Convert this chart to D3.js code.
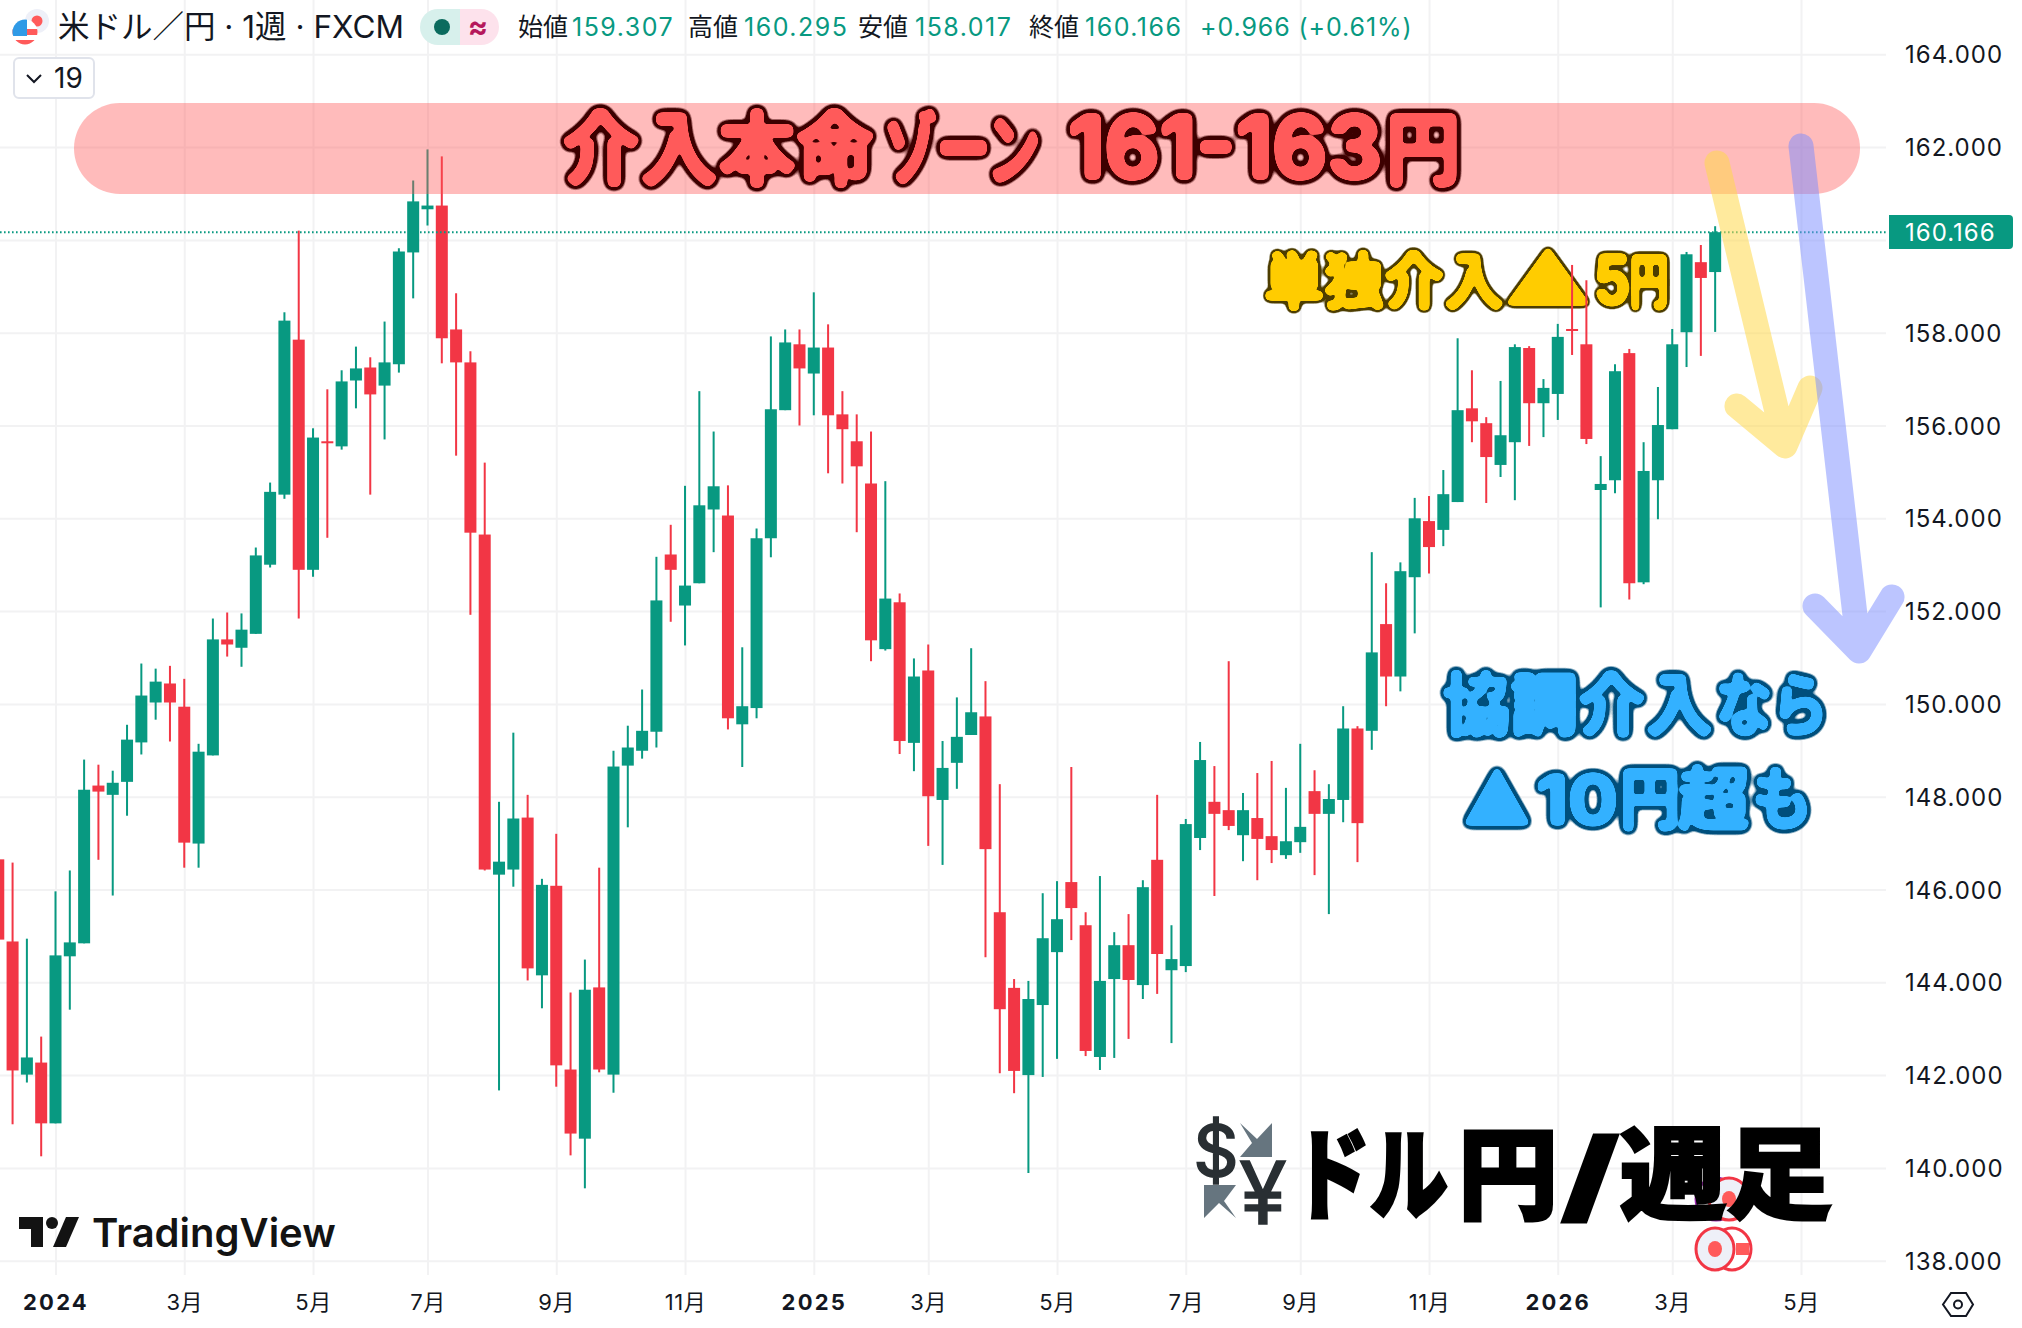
<!DOCTYPE html>
<html>
<head>
<meta charset="utf-8">
<script src="https://cdnjs.cloudflare.com/ajax/libs/d3/7.8.5/d3.min.js"></script>
<style>
  html, body { margin: 0; padding: 0; background: #fff; }
  svg { display: block; }
  text { font-family: Inter, "Noto Sans CJK JP", sans-serif; }
</style>
</head>
<body>
<script>
// size of the picture
const w = 2022;
const h = 1328;

// weekly candles, first one is the week of 2023-12-04
const opens = [146.65,144.88,142.01,142.27,140.96,144.56,144.84,148.24,148.04,148.32,149.17,150.03,150.44,149.94,146.99,148.89,151.39,151.21,151.51,153.00,154.51,157.85,152.89,155.66,155.55,156.97,157.25,156.86,157.32,159.73,160.66,160.74,158.07,157.36,153.65,146.32,146.43,147.55,144.15,146.08,142.12,140.63,143.89,142.01,148.67,148.99,149.40,153.22,152.12,152.60,154.19,154.06,149.56,149.91,153.57,156.33,157.75,157.12,157.68,156.24,155.66,154.75,151.18,152.19,149.16,150.72,147.93,148.73,149.33,149.73,145.51,143.88,142.00,143.51,144.65,146.16,145.23,142.39,144.07,144.80,143.94,146.64,144.26,144.35,147.11,147.89,147.71,147.17,147.54,147.15,146.74,147.02,148.12,147.63,147.93,149.47,149.42,151.72,150.59,152.73,153.94,153.75,154.35,156.37,156.05,155.15,155.64,157.67,156.48,156.68,158.08,157.75,154.61,154.82,157.56,152.62,154.82,155.92,158.01,159.52,159.307];
const highs = [146.68,146.58,144.94,142.83,145.96,146.41,148.80,148.69,148.56,149.55,150.87,150.76,150.82,150.54,149.14,151.84,151.97,151.95,153.37,154.77,158.44,160.20,155.94,156.78,157.19,157.70,157.47,158.24,159.82,161.28,161.95,161.80,158.85,157.60,155.20,147.89,149.38,148.04,146.23,147.20,143.78,144.49,146.47,148.99,149.53,150.31,153.17,153.86,154.70,156.74,155.87,154.71,151.22,153.78,157.92,158.07,158.07,158.87,158.18,156.74,156.24,155.87,154.80,152.38,150.98,151.28,149.20,150.14,151.20,150.49,148.27,144.07,144.03,145.92,146.18,148.64,145.51,146.29,145.08,145.47,146.20,148.04,145.23,147.52,149.18,148.66,150.92,148.08,148.51,148.77,148.19,149.14,148.57,148.27,149.95,149.52,153.27,152.60,153.05,154.44,154.48,155.04,157.88,157.19,156.18,156.96,157.75,157.71,157.00,158.19,159.46,159.13,155.34,157.32,157.65,155.64,156.83,158.08,159.74,159.89,160.295];
const lows = [144.90,140.94,141.84,140.25,140.96,143.41,144.84,146.64,145.87,147.59,148.91,149.66,149.19,146.47,146.47,148.89,151.02,150.80,151.51,152.94,154.42,151.84,152.74,153.58,155.48,156.37,154.51,155.70,157.14,158.74,160.31,157.34,155.35,151.92,146.41,141.67,146.06,144.04,143.44,141.75,140.27,139.56,142.06,141.62,147.34,148.82,149.06,151.77,151.26,152.60,153.27,149.45,148.64,149.69,153.16,156.33,156.00,156.22,154.97,154.75,153.70,150.92,151.15,148.92,148.55,146.94,146.53,148.17,149.33,144.54,142.04,141.61,139.89,141.96,142.35,144.91,142.41,142.11,142.37,142.78,143.64,143.75,142.69,144.22,146.85,145.86,147.28,146.61,146.20,146.57,146.66,146.79,146.31,145.47,147.45,146.59,149.01,149.95,150.27,151.52,152.81,153.40,154.35,155.64,154.33,154.89,154.39,155.56,155.75,156.12,157.52,155.60,152.08,154.54,152.25,152.58,153.98,155.92,157.26,157.50,158.017];
const closes = [144.92,142.10,142.38,140.96,144.58,144.86,148.15,148.11,148.30,149.23,150.18,150.48,150.03,147.01,148.97,151.39,151.28,151.60,153.20,154.57,158.26,152.89,155.74,155.63,156.95,157.23,156.67,157.36,159.75,160.83,160.74,157.88,157.36,153.69,146.43,146.60,147.53,144.30,146.10,142.21,140.74,143.84,142.12,148.65,149.06,149.42,152.23,152.89,152.55,154.28,154.69,149.69,149.95,153.57,156.35,157.79,157.23,157.68,156.22,155.92,155.12,151.37,152.27,149.20,150.59,148.01,148.62,149.29,149.82,146.87,143.42,142.09,143.64,144.95,145.36,145.60,142.52,144.03,144.80,144.05,146.05,144.61,144.50,147.41,148.79,147.63,147.37,147.71,147.09,146.85,147.04,147.35,147.63,147.95,149.47,147.43,151.11,150.59,152.86,154.00,153.38,154.52,156.33,156.09,155.32,155.79,157.69,156.48,156.81,157.91,158.06,155.71,154.74,157.17,152.60,155.02,156.01,157.75,159.69,159.18,160.166];

// axis ticks
const priceTicks = [138, 140, 142, 144, 146, 148, 150, 152, 154, 156, 158, 160, 162, 164];
const dateTicks = [[2024,0,1],[2024,2,4],[2024,4,6],[2024,6,1],[2024,8,2],[2024,10,4],[2025,0,6],[2025,2,3],[2025,4,5],[2025,6,7],[2025,8,1],[2025,10,3],[2026,0,5],[2026,2,2],[2026,4,4]];
const dateLabels = ["2024","3月","5月","7月","9月","11月","2025","3月","5月","7月","9月","11月","2026","3月","5月"];
const lastClose = 160.166;

// header values
const headerTitle = "米ドル／円 · 1週 · FXCM";
const ohlcNames = ["始値", "高値", "安値", "終値"];
const ohlcValues = ["159.307", "160.295", "158.017", "160.166"];
const changeText = "+0.966 (+0.61%)";

// colours
const up = "#089981";
const down = "#F23645";
const cjk = '"Noto Sans CJK JP", sans-serif';

const weeks = d3.timeMonday.range(new Date(2023, 11, 4), new Date(2026, 2, 24));
const tickDates = dateTicks.map(d => new Date(d[0], d[1], d[2]));

const x = d3.scaleTime()
    .domain([tickDates[0], tickDates[tickDates.length - 1]])
    .range([55.5, 1801]);
const y = d3.scaleLinear()
    .domain([138, 164])
    .range([1260.7, 54.3]);

const svg = d3.select("body").append("svg")
    .attr("width", w)
    .attr("height", h)
    .attr("viewBox", [0, 0, w, h]);
const defs = svg.append("defs");

// grid lines, drawn with the axes' own tick lines
const gridX = d3.axisBottom(x).tickValues(tickDates).tickSize(1275).tickFormat("");
svg.append("g").attr("class", "grid").call(gridX);
const gridY = d3.axisRight(y).tickValues(priceTicks).tickSize(1886).tickFormat("");
svg.append("g").attr("class", "grid").call(gridY);
svg.selectAll(".grid .domain").remove();
svg.selectAll(".grid line").attr("stroke", "#f2f2f3").attr("stroke-width", 2);

// filter that rounds and fattens the glyphs and puts a dark edge round them
function outlineFilter(id, fill, edge, fatSd, edgeSd, edgeCut) {
  const f = defs.append("filter")
      .attr("id", id)
      .attr("x", "-5%").attr("y", "-30%").attr("width", "110%").attr("height", "160%")
      .attr("color-interpolation-filters", "sRGB");
  function layer(sd, cut, colour, name) {
    f.append("feGaussianBlur").attr("in", "SourceAlpha").attr("stdDeviation", sd).attr("result", name + "b");
    f.append("feComponentTransfer").attr("in", name + "b").attr("result", name + "t")
        .append("feFuncA").attr("type", "linear").attr("slope", 16).attr("intercept", 0.5 - 16 * cut);
    f.append("feFlood").attr("flood-color", colour).attr("result", name + "c");
    f.append("feComposite").attr("in", name + "c").attr("in2", name + "t").attr("operator", "in").attr("result", name);
  }
  layer(edgeSd, edgeCut, edge, "edge");
  layer(fatSd, 0.22, fill, "fat");
  const m = f.append("feMerge");
  m.append("feMergeNode").attr("in", "edge");
  m.append("feMergeNode").attr("in", "fat");
}
outlineFilter("zoneText", "#ff5a5a", "#3d0000", 2.5, 5, 0.08);
outlineFilter("yellowText", "#ffcc00", "#4d3d00", 2, 3.5, 0.1);
outlineFilter("blueText", "#33b1ff", "#004f7c", 2, 4, 0.08);

// caption in one text element, pieces = [text, x, length, font size]
function caption(pieces, base, size, weight, fill) {
  const t = svg.append("text")
      .attr("y", base)
      .attr("font-family", cjk)
      .attr("font-weight", weight)
      .attr("font-size", size)
      .attr("fill", fill);
  pieces.forEach(p => {
    const s = t.append("tspan")
        .attr("x", p[1])
        .attr("textLength", p[2])
        .attr("lengthAdjust", "spacingAndGlyphs")
        .text(p[0]);
    if (p[3]) s.attr("font-size", p[3]);
  });
  return t;
}

// yellow caption sits under the candles, the wicks show over it
caption([["単独介入", 1264, 240], ["▲", 1503, 90, 72], ["5", 1594, 36, 68], ["円", 1630, 38]], 304, 61, 700, "#ffcc00")
    .attr("filter", "url(#yellowText)");

// candles
const bodyW = 12;
const candles = svg.append("g").selectAll("g")
    .data(weeks)
    .enter()
    .append("g")
    .attr("fill", (d, i) => closes[i] >= opens[i] ? up : down);
candles.append("rect")
    .attr("x", d => x(d) - 1)
    .attr("y", (d, i) => y(highs[i]))
    .attr("width", 2)
    .attr("height", (d, i) => y(lows[i]) - y(highs[i]));
candles.append("rect")
    .attr("x", d => x(d) - bodyW / 2)
    .attr("y", (d, i) => y(Math.max(opens[i], closes[i])))
    .attr("width", bodyW)
    .attr("height", (d, i) => Math.max(2, Math.abs(y(opens[i]) - y(closes[i]))));

// last price line
svg.append("line")
    .attr("x1", 0)
    .attr("x2", 1886)
    .attr("y1", y(lastClose))
    .attr("y2", y(lastClose))
    .attr("stroke", up)
    .attr("stroke-width", 2)
    .attr("stroke-dasharray", "1.6 2.4");

// intervention zone
svg.append("rect")
    .attr("x", 74)
    .attr("y", 103)
    .attr("width", 1786)
    .attr("height", 91)
    .attr("rx", 46)
    .attr("ry", 45.5)
    .attr("fill", "#ff5555")
    .attr("opacity", 0.4);
caption([["介入本命", 562, 312], ["ゾーン", 884, 156], ["161-163", 1068, 314, 86], ["円", 1386, 74]], 178, 80, 700, "#ff5a5a")
    .attr("filter", "url(#zoneText)");

// price axis
const yAxis = d3.axisRight(y).tickValues(priceTicks).tickSize(0).tickFormat(d3.format(".3f"));
const yAxisG = svg.append("g").attr("transform", "translate(1905,1)").call(yAxis);
yAxisG.select(".domain").remove();
yAxisG.selectAll("text")
    .attr("x", 0)
    .attr("fill", "#131722")
    .attr("font-size", 24)
    .attr("letter-spacing", 1);

// last price tag
svg.append("path")
    .attr("d", "M1889,215H2009a4,4 0 0 1 4,4V245a4,4 0 0 1 -4,4H1889Z")
    .attr("fill", up);
svg.append("text")
    .attr("x", 1905)
    .attr("y", y(lastClose))
    .attr("dy", "0.35em")
    .attr("fill", "#fff")
    .attr("font-size", 24)
    .attr("letter-spacing", 1)
    .text(d3.format(".3f")(lastClose));

// time axis
const xAxis = d3.axisBottom(x).tickValues(tickDates).tickSize(0).tickFormat((d, i) => dateLabels[i]);
const xAxisG = svg.append("g").attr("transform", "translate(0,1292)").call(xAxis);
xAxisG.select(".domain").remove();
xAxisG.selectAll("text")
    .attr("y", 0)
    .attr("dy", "0.8em")
    .attr("fill", "#131722")
    .attr("font-size", 22)
    .attr("letter-spacing", (d, i) => dateLabels[i].length == 4 ? 2.2 : 0.6)
    .attr("font-weight", (d, i) => dateLabels[i].length == 4 ? 700 : 400);

// blue caption
caption([["協調介入", 1443, 270], ["なら", 1716, 112]], 730, 68, 700, "#33b1ff").attr("filter", "url(#blueText)");
caption([["▲", 1462, 70, 72], ["10", 1536, 82], ["円", 1620, 60], ["超", 1678, 72], ["も", 1752, 60]], 824, 68, 700, "#33b1ff")
    .attr("filter", "url(#blueText)");

// arrows, thick translucent strokes
function arrow(path, colour, op) {
  svg.append("path")
      .attr("d", path)
      .attr("fill", "none")
      .attr("stroke", colour)
      .attr("stroke-opacity", op)
      .attr("stroke-width", 25)
      .attr("stroke-linecap", "round")
      .attr("stroke-linejoin", "round");
}
arrow("M1717,163L1785,445M1737,406L1785,446L1810,388", "#ffd84d", 0.55);
arrow("M1801,146L1859,650M1815,606L1859,651L1892,597", "#7a8cff", 0.5);

// exchange emoji
svg.append("text").attr("x", 1216).attr("y", 1176).attr("text-anchor", "middle")
    .attr("font-family", "Liberation Sans").attr("font-size", 70)
    .attr("fill", "#292f33").attr("stroke", "#292f33").attr("stroke-width", 2).text("$");
svg.append("text").attr("x", 1263).attr("y", 1224).attr("text-anchor", "middle")
    .attr("font-family", "Liberation Sans").attr("font-size", 86)
    .attr("fill", "#292f33").attr("stroke", "#292f33").attr("stroke-width", 1.5).text("¥");
svg.append("path").attr("d", "M1240,1123L1257,1139L1272,1123V1157H1240L1252,1143Z").attr("fill", "#66757f");
svg.append("path").attr("d", "M1204,1185H1236L1224,1201L1236,1218L1219,1203L1204,1218Z").attr("fill", "#66757f");

// coin marks
function coin(cx, cy, rx, ry) {
  svg.append("ellipse").attr("cx", cx).attr("cy", cy).attr("rx", rx).attr("ry", ry)
      .attr("fill", "#eef0f8").attr("stroke", "#f23645").attr("stroke-width", 3);
  svg.append("ellipse").attr("cx", cx).attr("cy", cy).attr("rx", 7).attr("ry", 8).attr("fill", "#ff5a5a");
}
svg.append("ellipse").attr("cx", 1732).attr("cy", 1249).attr("rx", 19).attr("ry", 21)
    .attr("fill", "#fff").attr("stroke", "#f23645").attr("stroke-width", 3);
svg.append("rect").attr("x", 1736).attr("y", 1243).attr("width", 13).attr("height", 12).attr("fill", "#ff5a5a");
coin(1715, 1249, 19, 21);
svg.append("ellipse").attr("cx", 1716).attr("cy", 1199).attr("rx", 20).attr("ry", 21)
    .attr("fill", "none").attr("stroke", "#9c27b0").attr("stroke-width", 3);
coin(1729, 1199, 20, 21);

// bottom title
caption([["ドル", 1292, 156], ["円", 1458, 100], ["/", 1562, 56], ["週足", 1620, 212]], 1211, 100, 900, "#000")
    .attr("stroke", "#000").attr("stroke-width", 3);

// TradingView logo
svg.append("path").attr("d", "M19,1217H43V1247H31V1229H19Z").attr("fill", "#131313");
svg.append("circle").attr("cx", 52).attr("cy", 1223).attr("r", 6).attr("fill", "#131313");
svg.append("path").attr("d", "M79,1217L66,1247H53L66,1217Z").attr("fill", "#131313");
svg.append("text").attr("x", 92).attr("y", 1247).attr("font-size", 40).attr("font-weight", 600)
    .attr("fill", "#131313").text("TradingView");

// settings hexagon
svg.append("path").attr("d", "M1951,1293H1966L1973,1304.5L1966,1316H1951L1943,1304.5Z")
    .attr("fill", "none").attr("stroke", "#131722").attr("stroke-width", 2);
svg.append("circle").attr("cx", 1958).attr("cy", 1304.5).attr("r", 4)
    .attr("fill", "none").attr("stroke", "#131722").attr("stroke-width", 2);

// header: flag icon
defs.append("clipPath").attr("id", "flag").append("circle").attr("cx", 25).attr("cy", 32).attr("r", 12.5);
svg.append("circle").attr("cx", 37).attr("cy", 21).attr("r", 12).attr("fill", "#eef0f8");
svg.append("circle").attr("cx", 37).attr("cy", 21).attr("r", 5.5).attr("fill", "#ff5a5a");
const flag = svg.append("g").attr("clip-path", "url(#flag)");
flag.append("rect").attr("x", 12).attr("y", 19).attr("width", 26).attr("height", 26).attr("fill", "#fff");
flag.append("rect").attr("x", 12).attr("y", 29).attr("width", 26).attr("height", 6).attr("fill", "#ff5a5a");
flag.append("rect").attr("x", 12).attr("y", 40).attr("width", 26).attr("height", 5).attr("fill", "#ff5a5a");
flag.append("rect").attr("x", 12).attr("y", 19).attr("width", 15).attr("height", 17).attr("fill", "#2f9ae6");

svg.append("text").attr("x", 58).attr("y", 38).attr("font-size", 31.5).attr("fill", "#131722").text(headerTitle);

// header: status badge
svg.append("path").attr("d", "M460,9H438a18,18 0 0 0 0,36H460Z").attr("fill", "#d7f0ec");
svg.append("path").attr("d", "M460,9H481a18,18 0 0 1 0,36H460Z").attr("fill", "#fde2ec");
svg.append("circle").attr("cx", 442).attr("cy", 27).attr("r", 8).attr("fill", "#0b6b5e");
svg.append("text").attr("x", 478).attr("y", 37).attr("text-anchor", "middle").attr("font-size", 30)
    .attr("font-weight", 700).attr("fill", "#b5185c").text("≈");

// header: ohlc readout
const nameX = [518, 688, 858, 1029];
const valueX = [572, 744, 915, 1085];
ohlcNames.forEach((n, i) => {
  svg.append("text").attr("x", nameX[i]).attr("y", 36).attr("font-size", 25).attr("fill", "#131722").text(n);
  svg.append("text").attr("x", valueX[i]).attr("y", 36).attr("font-size", 25).attr("letter-spacing", 1.5).attr("fill", up).text(ohlcValues[i]);
});
svg.append("text").attr("x", 1200).attr("y", 36).attr("font-size", 25).attr("letter-spacing", 0.9).attr("fill", up).text(changeText);

// indicator count button
svg.append("rect").attr("x", 14).attr("y", 58).attr("width", 80).attr("height", 40).attr("rx", 5)
    .attr("fill", "#fff").attr("stroke", "#e0e3eb").attr("stroke-width", 2);
svg.append("path").attr("d", "M27,75L34,82L41,75").attr("fill", "none").attr("stroke", "#131722").attr("stroke-width", 2);
svg.append("text").attr("x", 54).attr("y", 88).attr("font-size", 28).attr("fill", "#131722").text("19");
</script>
</body>
</html>
